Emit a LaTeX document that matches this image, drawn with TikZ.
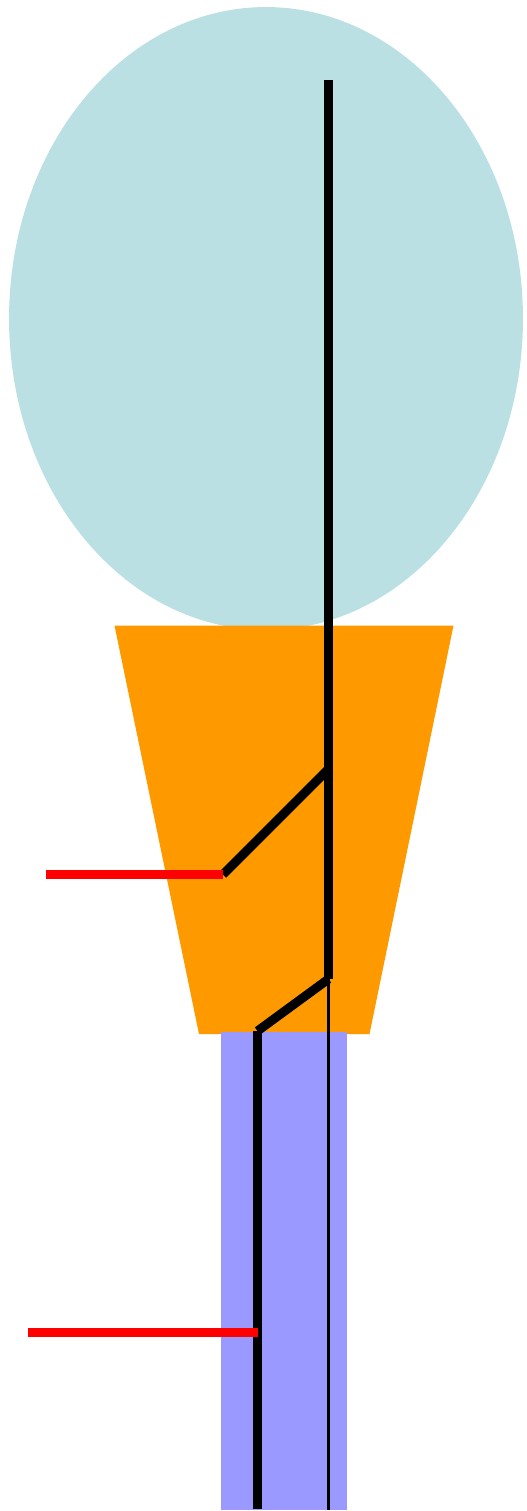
\documentclass[tikz,border=0pt]{standalone}
\usepackage{tikz}
\usetikzlibrary{shapes.geometric}
\definecolor{mycrown}{HTML}{BBE0E3}
\definecolor{myorange}{HTML}{FF9900}
\definecolor{myblue}{HTML}{9999FF}
\tikzset{
	crownnode/.style={
			shape=ellipse,
			fill=mycrown,
			minimum width=10.28cm,
			minimum height=12.46cm,
			inner sep=0pt
		},
	stemnode/.style={
			shape=rectangle,
			fill=myblue,
			minimum width=2.54cm,
			minimum height=9.56cm,
			inner sep=0pt
		},
	thickwire/.style={
			draw=black,
			line width=0.18cm
		},
	slantwire/.style={
			draw=black,
			line width=0.18cm
		},
	thinwire/.style={
			draw=black,
			line width=0.06cm
		},
	redwire/.style={
			draw=red,
			line width=0.18cm
		}
}

\begin{document}
\begin{tikzpicture}[x=0.02cm, y=-0.02cm]
  \useasboundingbox (0,0) rectangle (527,1511);

  \node[crownnode] (crown) at (266,318.5) {};
  \fill[myorange] (114.5,625.5) -- (453.5,625.5) -- (369.5,1034) -- (199,1034) -- cycle;
  \node[stemnode] (stem) at (284,1271) {};

  \coordinate (top) at (328.5,80);
  \coordinate (knee) at (328.5,979);
  \coordinate (bottomr) at (328.5,1510);
  \coordinate (joint) at (257.5,1031);
  \coordinate (bottoml) at (257.5,1509);
  \coordinate (branch) at (328.5,769);
  \coordinate (tip) at (223,874.5);
  \coordinate (upperend) at (46,874.5);
  \coordinate (lowerend) at (28,1332);
  \coordinate (lowertip) at (258,1332);

  \draw[thickwire] (top) -- (knee);
  \draw[thinwire] (knee) -- (bottomr);
  \draw[slantwire] (knee) -- (joint);
  \draw[thickwire] (joint) -- (bottoml);
  \draw[slantwire] (branch) -- (tip);
  \draw[redwire] (upperend) -- (tip);
  \draw[redwire] (lowerend) -- (lowertip);

\end{tikzpicture}
\end{document}
